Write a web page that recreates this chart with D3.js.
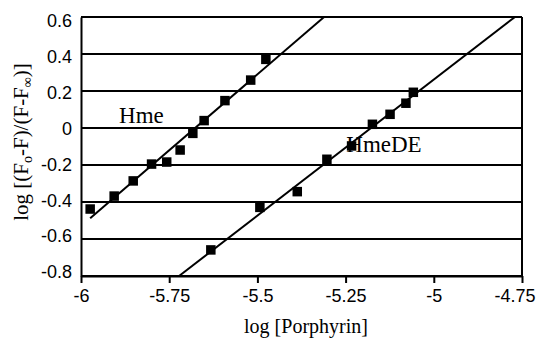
<!DOCTYPE html>
<html>
<head>
<meta charset="utf-8">
<script src="https://cdn.jsdelivr.net/npm/d3@7"></script>
<style>
  body { margin: 0; background: #fff; }
  svg { display: block; }
  .serif { font-family: 'Liberation Serif', 'Times New Roman', 'DejaVu Serif', serif; }
  .sans { font-family: 'Liberation Sans', Arial, sans-serif; }
</style>
</head>
<body>
<div id="chart"></div>
<script>
// Hme points: log[Porphyrin], log[(Fo-F)/(F-Finf)]
const hmeX = [-5.974, -5.906, -5.852, -5.800, -5.757, -5.719, -5.683, -5.651, -5.592, -5.519, -5.476];
const hmeY = [-0.438, -0.368, -0.286, -0.195, -0.184, -0.119, -0.029, 0.040, 0.148, 0.259, 0.371];
// HmeDE points
const hmedeX = [-5.632, -5.493, -5.387, -5.303, -5.233, -5.174, -5.124, -5.079, -5.058];
const hmedeY = [-0.659, -0.429, -0.344, -0.169, -0.097, 0.020, 0.074, 0.134, 0.193];
// fitted lines (end points)
const hmeFitX = [-5.974, -5.311];
const hmeFitY = [-0.488, 0.6];
const hmedeFitX = [-5.722, -4.770];
const hmedeFitY = [-0.8, 0.6];

const xTicks = [-6, -5.75, -5.5, -5.25, -5, -4.75];
const yTicks = [0.6, 0.4, 0.2, 0, -0.2, -0.4, -0.6, -0.8];

const width = 537, height = 339;
const margin = { top: 17, right: 15, bottom: 63, left: 81 };

const svg = d3.select('#chart').append('svg')
  .attr('width', width)
  .attr('height', height);

const x = d3.scaleLinear().domain([-6, -4.75]).range([margin.left, width - margin.right]);
const y = d3.scaleLinear().domain([-0.8, 0.6]).range([height - margin.bottom, margin.top]);

const fmt = d => d === 0 ? '0' : String(d);

// horizontal gridlines
svg.append('g')
  .selectAll('line')
  .data(yTicks)
  .enter().append('line')
  .attr('x1', x(-6)).attr('x2', x(-4.75))
  .attr('y1', d => y(d)).attr('y2', d => y(d))
  .attr('stroke', '#000').attr('stroke-width', 2);

// x axis
svg.append('g')
  .attr('transform', 'translate(0,' + y(-0.8) + ')')
  .call(d3.axisBottom(x).tickValues(xTicks).tickSize(7).tickSizeOuter(0).tickFormat(fmt))
  .call(g => g.select('.domain').attr('stroke-width', 2))
  .call(g => g.selectAll('.tick line').attr('stroke-width', 2))
  .call(g => g.selectAll('text')
    .attr('class', 'sans')
    .attr('dy', '0.9em')
    .attr('font-size', 18)
    .attr('fill', '#000'))
  .call(g => g.selectAll('text').filter(d => d === -4.75)
    .attr('text-anchor', 'end')
    .attr('x', 13));

// y axis (labels sit a little inside the gridlines, as in the original)
svg.append('g')
  .attr('transform', 'translate(' + x(-6) + ',0)')
  .call(d3.axisLeft(y).tickValues(yTicks).tickSize(0).tickPadding(9).tickFormat(fmt))
  .call(g => g.select('.domain').attr('stroke-width', 2))
  .call(g => g.selectAll('text')
    .attr('class', 'sans')
    .attr('font-size', 18)
    .attr('fill', '#000')
    .attr('y', d => (d + 0.1) * 5.6));

// right border
svg.append('line')
  .attr('x1', x(-4.75)).attr('x2', x(-4.75))
  .attr('y1', y(0.6)).attr('y2', y(-0.8))
  .attr('stroke', '#000').attr('stroke-width', 2);

// fit lines
const line = d3.line().x(d => x(d[0])).y(d => y(d[1]));
[[hmeFitX, hmeFitY], [hmedeFitX, hmedeFitY]].forEach(([xs, ys]) => {
  svg.append('path')
    .datum(d3.zip(xs, ys))
    .attr('d', line)
    .attr('fill', 'none')
    .attr('stroke', '#000')
    .attr('stroke-width', 2);
});

// markers
const s = 9.5;
[[hmeX, hmeY], [hmedeX, hmedeY]].forEach(([xs, ys]) => {
  svg.append('g')
    .selectAll('rect')
    .data(d3.zip(xs, ys))
    .enter().append('rect')
    .attr('x', d => x(d[0]) - s / 2)
    .attr('y', d => y(d[1]) - s / 2)
    .attr('width', s)
    .attr('height', s)
    .attr('fill', '#000');
});

// series labels
svg.append('text')
  .attr('class', 'serif')
  .attr('x', x(-5.892)).attr('y', y(0.027))
  .attr('font-size', 23)
  .text('Hme');
svg.append('text')
  .attr('class', 'serif')
  .attr('x', x(-5.248)).attr('y', y(-0.132))
  .attr('font-size', 23)
  .text('HmeDE');

// x title
svg.append('text')
  .attr('class', 'serif')
  .attr('x', 306).attr('y', 333)
  .attr('text-anchor', 'middle')
  .attr('font-size', 20)
  .text('log [Porphyrin]');

// y title
const yt = svg.append('text')
  .attr('class', 'serif')
  .attr('transform', 'translate(28,142) rotate(-90)')
  .attr('text-anchor', 'middle')
  .attr('font-size', 21);
yt.append('tspan').text('log [(F');
yt.append('tspan').attr('dy', 4).attr('font-size', 14).text('o');
yt.append('tspan').attr('dy', -4).text('-F)/(F-F');
yt.append('tspan').attr('dy', 4).attr('font-size', 14).text('\u221E');
yt.append('tspan').attr('dy', -4).text(')]');
</script>
</body>
</html>
